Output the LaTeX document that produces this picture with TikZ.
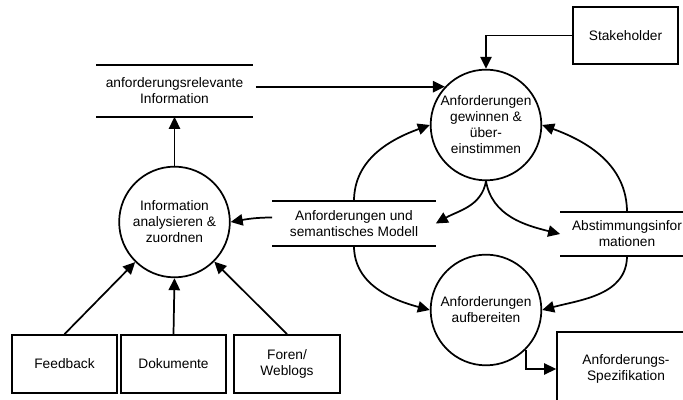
\documentclass[tikz,border=0pt]{standalone}
\usepackage{fontspec}
\setmainfont{Liberation Sans}
\usetikzlibrary{arrows.meta,calc,shapes}

\tikzset{
  proc/.style={circle,draw,inner sep=0pt,minimum size=83pt,align=center},
  extern/.style={rectangle,draw,inner sep=0pt,align=center},
  datastore/.style={inner sep=0pt,align=center},
  flow/.style={-{Triangle[length=9pt,width=8.5pt]}}
}

\begin{document}
\begin{tikzpicture}[x=0.75pt,y=0.75pt,line width=1.3pt,font=\fontsize{10.3pt}{12pt}\selectfont]
\useasboundingbox (0,0) rectangle (683,400);
\clip (0,0) rectangle (683,400);
%processes
\node[proc] (GEW) at (486,275) {Anforderungen\\gewinnen \&\\über-\\einstimmen};
\node[proc] (ANA) at (174.5,178) {Information\\analysieren \&\\zuordnen};
\node[proc] (AUFB) at (486,90) {Anforderungen\\aufbereiten};
%external
\node[extern,minimum width=78.75pt,minimum height=42.75pt] (STAKE) at (625.5,364.5) {Stakeholder};
\node[extern,minimum width=78.75pt,minimum height=43.5pt] (FEEDBACK) at (64.5,36) {Feedback};
\node[extern,minimum width=78.75pt,minimum height=43.5pt] (DOKU) at (173.5,36) {Dokumente};
\node[extern,minimum width=79.5pt,minimum height=43.5pt] (FOREN) at (287,36) {Foren/\\Weblogs};
\node[extern,minimum width=103.5pt,minimum height=55.5pt] (SPEC) at (626,31) {Anforderungs-\\Spezifikation};
%data stores
\node[datastore,minimum width=116.25pt,minimum height=37.5pt] (RELINFO) at (174.5,309) {anforderungsrelevante\\Information};
\node[datastore,minimum width=121.5pt,minimum height=32.25pt] (MODELL) at (354,176.5) {Anforderungen und\\semantisches Modell};
\node[datastore,minimum width=99pt,minimum height=31.5pt] (ABST) at (627,166) {Abstimmungsinfor\\mationen};
\foreach \s in {RELINFO,MODELL,ABST}{
  \draw (\s.north west) -- (\s.north east);
  \draw (\s.south west) -- (\s.south east);
}
%flows
\draw[flow] (STAKE.west) -| (GEW.north);
\draw[flow] ($(RELINFO.east |- GEW.137)+(3,0)$) -- (GEW.137);
\draw[flow] (ANA.north) -- (RELINFO.south);
\draw[flow] (FEEDBACK.north) -- (ANA);
\draw[flow] (DOKU.north) -- (ANA.south);
\draw[flow] (FOREN.north) -- (ANA);
\draw[flow] ($(MODELL.west)+(0,6)$) to[out=180,in=10] (ANA.east);
\draw[flow] (GEW.south) to[out=-100,in=30] (MODELL.east);
\draw[flow] (GEW.south) to[out=-80,in=166] (ABST.west);
\draw[flow] (MODELL.north) to[out=90,in=200] (GEW.west);
\draw[flow] (ABST.north) to[out=90,in=-20] (GEW.east);
\draw[flow] (MODELL.south) to[out=-90,in=165] (AUFB.west);
\draw[flow] (ABST.south) to[out=-90,in=15] (AUFB.east);
\draw[flow] (AUFB.-45) |- (SPEC.west);
\end{tikzpicture}
\end{document}
